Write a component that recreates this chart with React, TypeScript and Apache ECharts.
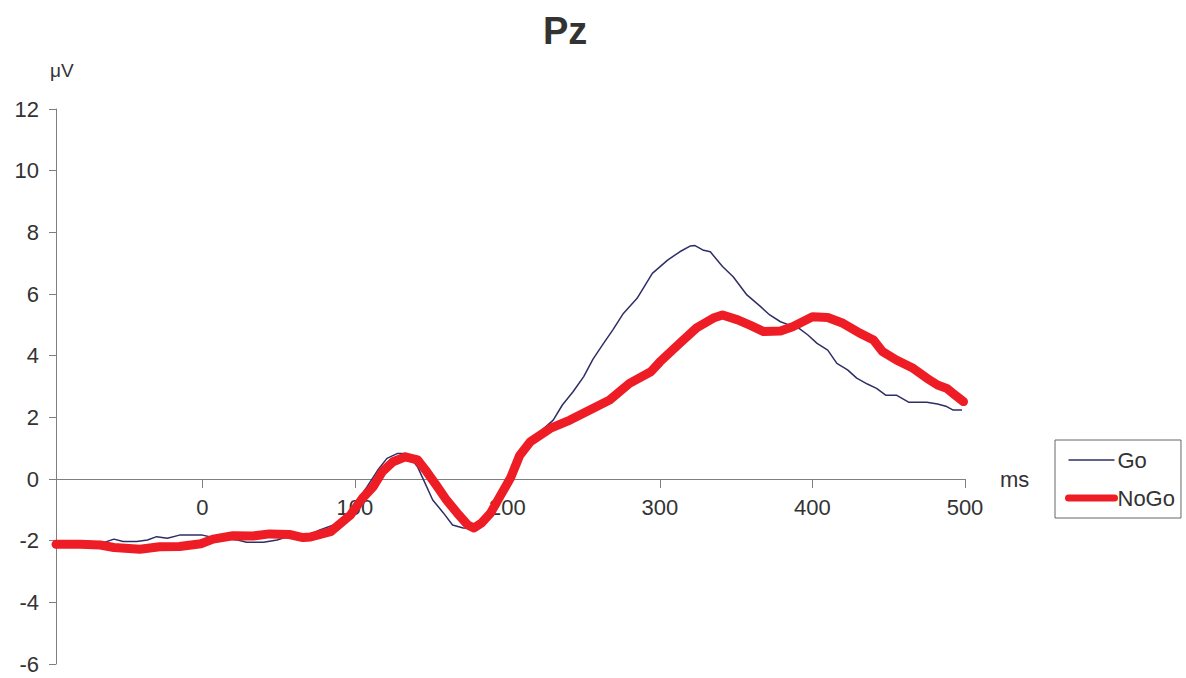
import React, { useEffect, useRef } from "react";
import * as echarts from "echarts";

const title = "Pz";
const xTicks = [0, 100, 200, 300, 400, 500];

const goTimes = [-96, -80, -67, -58, -52, -43, -36, -30, -23, -15, 0, 7, 23, 29, 40, 49, 57, 66, 77, 86, 95, 101, 108, 115, 121, 128, 133, 137, 141, 145, 151, 158, 164, 171, 177, 183, 189, 195, 202, 208, 215, 223, 230, 236, 243, 250, 256, 263, 269, 276, 285, 295, 305, 313, 320, 323, 328, 333, 341, 348, 357, 366, 372, 379, 385, 391, 397, 403, 410, 416, 423, 429, 436, 442, 448, 455, 463, 475, 482, 488, 492, 498];
const goValues = [-2.1, -2.1, -2.1, -1.95, -2.03, -2.03, -1.98, -1.87, -1.92, -1.82, -1.82, -1.9, -1.98, -2.05, -2.05, -1.98, -1.85, -1.9, -1.65, -1.49, -1.17, -0.74, -0.25, 0.29, 0.67, 0.83, 0.83, 0.65, 0.4, -0.03, -0.68, -1.1, -1.49, -1.59, -1.6, -1.43, -1.1, -0.57, 0.03, 0.76, 1.21, 1.6, 1.91, 2.4, 2.83, 3.32, 3.88, 4.4, 4.83, 5.37, 5.86, 6.67, 7.1, 7.37, 7.56, 7.57, 7.43, 7.37, 6.89, 6.56, 5.97, 5.59, 5.32, 5.1, 4.99, 4.89, 4.67, 4.4, 4.18, 3.75, 3.54, 3.27, 3.08, 2.94, 2.72, 2.72, 2.49, 2.49, 2.43, 2.35, 2.24, 2.24];

const noGoTimes = [-96, -80, -67, -58, -41, -28, -15, -1, 7, 20, 33, 44, 57, 66, 71, 84, 97, 105, 112, 118, 125, 133, 141, 147, 154, 160, 167, 174, 178, 183, 189, 195, 202, 208, 215, 228, 241, 254, 267, 280, 294, 300, 313, 324, 335, 341, 351, 359, 368, 379, 387, 400, 410, 420, 431, 440, 446, 455, 466, 475, 482, 488, 492, 499];
const noGoValues = [-2.12, -2.12, -2.14, -2.22, -2.28, -2.2, -2.19, -2.1, -1.95, -1.84, -1.85, -1.78, -1.8, -1.9, -1.88, -1.71, -1.17, -0.62, -0.25, 0.24, 0.56, 0.72, 0.62, 0.24, -0.25, -0.68, -1.1, -1.49, -1.59, -1.43, -1.1, -0.57, 0.03, 0.76, 1.21, 1.64, 1.91, 2.24, 2.56, 3.1, 3.48, 3.8, 4.4, 4.9, 5.22, 5.32, 5.16, 4.99, 4.78, 4.8, 4.94, 5.26, 5.24, 5.05, 4.73, 4.51, 4.13, 3.86, 3.59, 3.27, 3.05, 2.94, 2.78, 2.51];

const FONT = "'Liberation Sans', Arial, Helvetica, sans-serif";

export default function App() {
  const ref = useRef<HTMLDivElement>(null);
  useEffect(() => {
    if (!ref.current) return;
    const chart = echarts.init(ref.current, null, { renderer: "svg" });
    const axisColor = "#7f7f7f";
    chart.setOption({
      animation: false,
      backgroundColor: "#ffffff",
      textStyle: { fontFamily: FONT },
      title: {
        text: title,
        left: 538,
        top: 7,
        textStyle: { fontSize: 38, fontWeight: "bold", color: "#333333", fontFamily: FONT },
      },
      legend: {
        orient: "vertical",
        left: 1055,
        top: 440,
        padding: [9, 6, 9, 10],
        borderColor: "#666666",
        borderWidth: 1,
        itemWidth: 46,
        itemHeight: 14,
        itemGap: 16,
        itemStyle: { opacity: 0 },
        textStyle: { fontSize: 22, color: "#333333", fontFamily: FONT, padding: [0, 0, 0, -2] },
        data: [
          { name: "Go", lineStyle: { width: 1.5, color: "#2e2e66" } },
          { name: "NoGo", lineStyle: { width: 7, color: "#ee1c25", cap: "round" } },
        ],
      },
      grid: { left: 56, right: 221, top: 109, bottom: 14, containLabel: false },
      xAxis: {
        type: "value",
        min: -96,
        max: 500,
        offset: -185,
        name: "ms",
        nameLocation: "end",
        nameGap: 35,
        nameTextStyle: { fontSize: 22, color: "#333333", fontFamily: FONT },
        axisLine: { onZero: false, lineStyle: { color: axisColor, width: 1 } },
        axisTick: { show: true, length: 9, customValues: xTicks, lineStyle: { color: axisColor } },
        axisLabel: { customValues: xTicks, fontSize: 22, color: "#333333", margin: 17, fontFamily: FONT },
        splitLine: { show: false },
      },
      yAxis: {
        type: "value",
        min: -6,
        max: 12,
        interval: 2,
        name: "μV",
        nameLocation: "end",
        nameGap: 29,
        nameTextStyle: { fontSize: 19, color: "#333333", fontFamily: FONT, align: "left", padding: [0, 0, 0, -6] },
        axisLine: { show: true, onZero: false, lineStyle: { color: axisColor, width: 1 } },
        axisTick: { show: true, length: 7, lineStyle: { color: axisColor } },
        axisLabel: { fontSize: 22, color: "#333333", margin: 17, fontFamily: FONT },
        splitLine: { show: false },
      },
      series: [
        {
          name: "Go",
          type: "line",
          symbol: "none",
          data: goTimes.map((t, i) => [t, goValues[i]]),
          lineStyle: { color: "#2e2e66", width: 1.5 },
          itemStyle: { color: "#2e2e66" },
          z: 2,
        },
        {
          name: "NoGo",
          type: "line",
          symbol: "none",
          data: noGoTimes.map((t, i) => [t, noGoValues[i]]),
          lineStyle: { color: "#ee1c25", width: 9, cap: "round", join: "round" },
          itemStyle: { color: "#ee1c25" },
          z: 3,
        },
      ],
    });
    return () => chart.dispose();
  }, []);
  return (
    <div
      ref={ref}
      style={{ position: "absolute", left: 0, top: 0, width: 1186, height: 678 }}
    />
  );
}
